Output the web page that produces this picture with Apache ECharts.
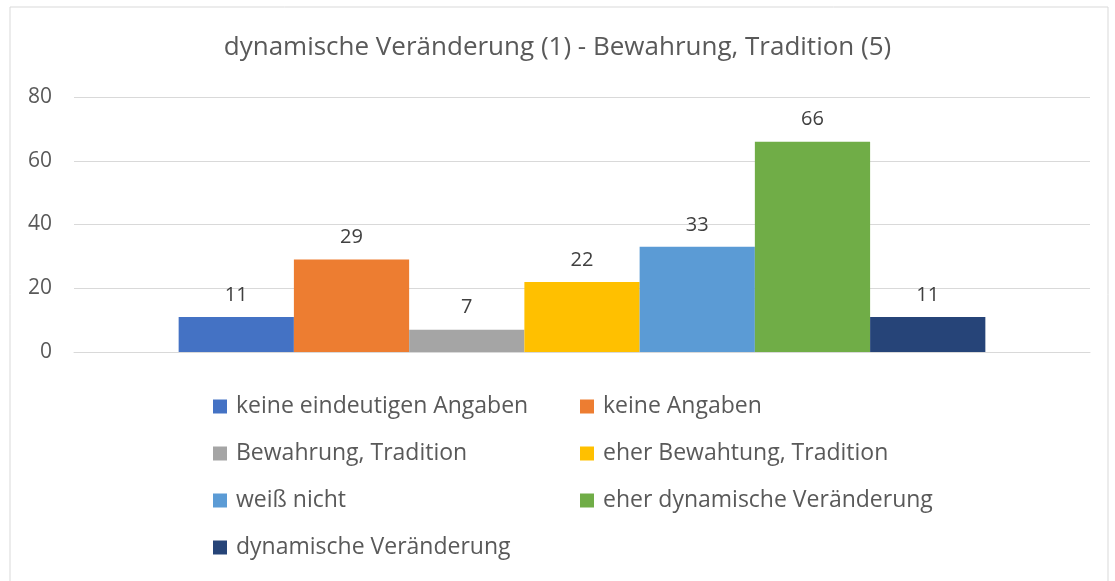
<!DOCTYPE html>
<html>
<head>
<meta charset="utf-8">
<script src="https://cdn.jsdelivr.net/npm/echarts@6/dist/echarts.min.js"></script>
<style>
  html, body { margin: 0; padding: 0; background: #fff; }
  #chart-container { width: 1115px; height: 581px; }
</style>
</head>
<body>
<div id="chart-container"></div>
<script>
(function () {
    const titleText = 'dynamische Veränderung (1) - Bewahrung, Tradition (5)';
    const categories = [''];
    const seriesNames = [
        'keine eindeutigen Angaben',
        'keine Angaben',
        'Bewahrung, Tradition',
        'eher Bewahtung, Tradition',
        'weiß nicht',
        'eher dynamische Veränderung',
        'dynamische Veränderung'
    ];
    const seriesValues = [11, 29, 7, 22, 33, 66, 11];
    const colors = ['#4472C4', '#ED7D31', '#A5A5A5', '#FFC000', '#5B9BD5', '#70AD47', '#264478'];
    const yTicks = { min: 0, max: 80, interval: 20 };

    const font = '"Open Sans", "Noto Sans", sans-serif';
    const textColor = '#595959';

    const myChart = echarts.init(document.getElementById('chart-container'));

    const option = {
        animation: false,
        color: colors,
        textStyle: { fontFamily: font },
        title: {
            text: titleText,
            left: 'center',
            top: 30,
            textStyle: { fontFamily: font, fontSize: 26, fontWeight: 'normal', color: textColor }
        },
        // rahmen um das diagramm
        graphic: [{
            type: 'rect',
            shape: { x: 10, y: 7, width: 1098, height: 600 },
            style: { fill: 'none', stroke: '#d9d9d9', lineWidth: 1 },
            silent: true
        }],
        grid: { left: 74, right: 25, top: 97, bottom: 229 },
        legend: {
            data: seriesNames,
            left: 213,
            top: 394,
            width: 770,
            padding: 0,
            orient: 'horizontal',
            icon: 'rect',
            itemWidth: 14,
            itemHeight: 14,
            itemGap: 22,
            textStyle: {
                fontFamily: font, fontSize: 23, color: textColor,
                width: 322, lineHeight: 25, padding: [0, 0, 0, 4]
            }
        },
        xAxis: {
            type: 'category',
            data: categories,
            axisLine: { show: true, lineStyle: { color: '#d9d9d9' } },
            axisTick: { show: false },
            axisLabel: { show: false }
        },
        yAxis: {
            type: 'value',
            min: yTicks.min,
            max: yTicks.max,
            interval: yTicks.interval,
            axisLine: { show: false },
            axisTick: { show: false },
            splitLine: { lineStyle: { color: '#d9d9d9', width: 1 } },
            axisLabel: { fontFamily: font, fontSize: 21, color: textColor, margin: 22 }
        },
        series: seriesNames.map((name, i) => ({
            name,
            type: 'bar',
            data: [seriesValues[i]],
            barGap: '0%',
            barCategoryGap: '20.6%',
            label: {
                show: true,
                position: 'top',
                distance: 12,
                fontFamily: font,
                fontSize: 20,
                color: '#404040'
            }
        }))
    };

    myChart.setOption(option);
})();
</script>
</body>
</html>
